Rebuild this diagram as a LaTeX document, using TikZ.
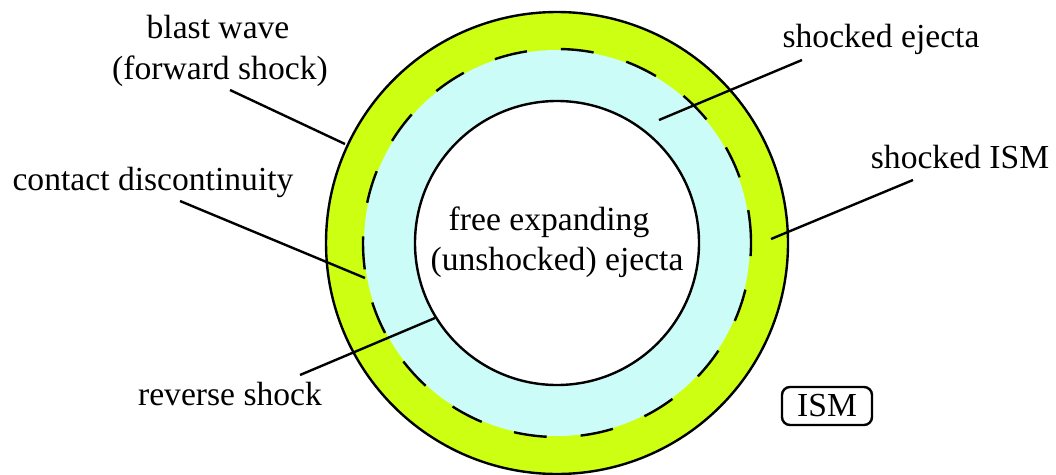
\documentclass[tikz,border=0pt]{standalone}
\usepackage{fontspec}
\setmainfont{Liberation Serif}
\usepackage{tikz}
\usetikzlibrary{positioning}
\definecolor{ismgreen}{HTML}{CCFF11}
\definecolor{ejcyan}{HTML}{CCFCF7}

\begin{document}
\begin{tikzpicture}[x=1pt,y=-1pt,line width=2.4pt,
    lbl/.style={anchor=base,inner sep=0pt,font=\fontsize{33.6}{41}\selectfont},
    leader/.style={line width=2.4pt}]
  \useasboundingbox (0,0) rectangle (1056,474);
  \coordinate (C) at (557,243);
  % shells: swept-up ISM, shocked ejecta, free ejecta
  \fill[ismgreen] (C) circle (231pt);
  \fill[ejcyan] (C) circle (193pt);
  \fill[white] (C) circle (142pt);
  \draw[dash pattern=on 33pt off 34pt] (C) circle (194pt);
  \draw (C) circle (231pt);
  \draw (C) circle (142pt);

  \node[lbl] (fe1) at (549,230) {free expanding};
  \node[lbl] (fe2) at (557,270) {(unshocked) ejecta};

  \node[lbl] (bw1) at (218,38) {blast wave};
  \node[lbl] (bw2) at (220,79) {(forward shock)};
  \node[lbl] (cd) at (153,190) {contact discontinuity};
  \node[lbl] (rs) at (230,405) {reverse shock};
  \node[lbl] (se) at (881,47) {shocked ejecta};
  \node[lbl] (si) at (960,168) {shocked ISM};
  \node[draw,rounded corners=8pt,minimum width=90pt,minimum height=38pt,
        inner sep=0pt,font=\fontsize{33.6}{41}\selectfont] (ism) at (827,406) {ISM};

  % leader lines
  \coordinate (bwA) at (230,90);  \coordinate (bwB) at (345,144);
  \coordinate (cdA) at (180,201); \coordinate (cdB) at (365,278);
  \coordinate (rsA) at (300,375); \coordinate (rsB) at (435,318);
  \coordinate (seA) at (802,60);  \coordinate (seB) at (659,120);
  \coordinate (siA) at (913,180); \coordinate (siB) at (771,239);
  \draw[leader] (bwA) -- (bwB);
  \draw[leader] (cdA) -- (cdB);
  \draw[leader] (rsA) -- (rsB);
  \draw[leader] (seA) -- (seB);
  \draw[leader] (siA) -- (siB);
\end{tikzpicture}
\end{document}
